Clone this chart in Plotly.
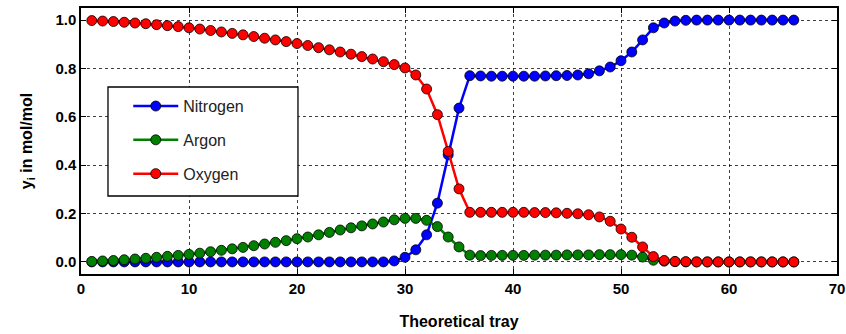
import plotly.graph_objects as go

trays = list(range(1, 67))

nitrogen = [0.0] * 28 + [
    0.004, 0.019, 0.050, 0.112, 0.243, 0.443, 0.636, 0.770,
    0.769, 0.768, 0.768, 0.768, 0.768, 0.768, 0.769, 0.770, 0.771, 0.773,
    0.778, 0.790, 0.806, 0.832, 0.868, 0.918, 0.968, 0.988, 0.996, 0.999,
] + [1.0] * 10

argon = [
    0.002, 0.004, 0.006, 0.009, 0.012, 0.015, 0.019, 0.023, 0.027, 0.031,
    0.036, 0.042, 0.048, 0.054, 0.060, 0.067, 0.074, 0.081, 0.088, 0.096,
    0.103, 0.112, 0.122, 0.132, 0.141, 0.149, 0.157, 0.165, 0.174, 0.180,
    0.180, 0.172, 0.146, 0.103, 0.062, 0.028,
    0.026, 0.027, 0.027, 0.027, 0.027, 0.028, 0.028, 0.028, 0.029, 0.029,
    0.029, 0.030, 0.030, 0.030, 0.028, 0.020, 0.007, 0.003, 0.001, 0.0,
] + [0.0] * 10

oxygen = [
    0.998, 0.996, 0.994, 0.991, 0.988, 0.985, 0.981, 0.977, 0.973, 0.968,
    0.963, 0.957, 0.951, 0.945, 0.939, 0.932, 0.925, 0.918, 0.911, 0.903,
    0.895, 0.886, 0.877, 0.868, 0.859, 0.849, 0.839, 0.828, 0.816, 0.802,
    0.773, 0.715, 0.609, 0.457, 0.302, 0.205,
    0.205, 0.205, 0.205, 0.205, 0.205, 0.204, 0.204, 0.203, 0.201, 0.199,
    0.195, 0.186, 0.168, 0.136, 0.102, 0.062, 0.022, 0.006, 0.002, 0.001,
] + [0.0] * 10

series = [("Nitrogen", nitrogen, "#0000ff"),
          ("Argon", argon, "#008000"),
          ("Oxygen", oxygen, "#ff0000")]

fig = go.Figure()
for name, vals, col in series:
    fig.add_trace(go.Scatter(
        x=trays, y=vals, name=name, mode="lines+markers",
        line=dict(color=col, width=2.5),
        marker=dict(color=col, size=10, line=dict(color="black", width=0.8)),
        legendgroup=name,
    ))

axis_common = dict(
    showline=True, linecolor="black", linewidth=1.5, mirror="allticks",
    ticks="inside", ticklen=5, tickwidth=1.2, tickcolor="black",
    showgrid=True, gridcolor="rgba(0,0,0,0.75)", griddash="dot", gridwidth=1,
    zeroline=False, automargin=False,
    tickfont=dict(family="Liberation Sans", size=15, color="black", weight="bold"),
)

fig.update_xaxes(range=[0, 70], dtick=10, **axis_common,
                 title=dict(text="Theoretical tray", standoff=20,
                            font=dict(family="Liberation Sans", size=16, color="black", weight="bold")))
fig.update_yaxes(range=[-0.05, 1.05], tickvals=[0, 0.2, 0.4, 0.6, 0.8, 1.0],
                 tickformat=".1f", **axis_common,
                 title=dict(text="y<sub>i</sub> in mol/mol", standoff=19,
                            font=dict(family="Liberation Sans", size=16, color="black", weight="bold")))

# legend frame (white box behind the legend entries)
fig.add_shape(type="rect", xref="paper", yref="paper",
              x0=0.0357, x1=0.287, y0=0.2932, y1=0.703,
              fillcolor="white", line=dict(color="black", width=1.3), layer="above")

fig.update_layout(
    width=846, height=334,
    margin=dict(l=81, r=9, t=8, b=60),
    plot_bgcolor="white", paper_bgcolor="white",
    showlegend=True,
    legend=dict(x=0.0625, y=0.695, xanchor="left", yanchor="top",
                bgcolor="rgba(0,0,0,0)", borderwidth=0,
                font=dict(family="Liberation Sans", size=16, color="#222"),
                tracegroupgap=10, traceorder="grouped", itemwidth=45),
)

fig.write_html("out.html", post_script="document.body.style.margin='0';",
               config={"displayModeBar": False})
